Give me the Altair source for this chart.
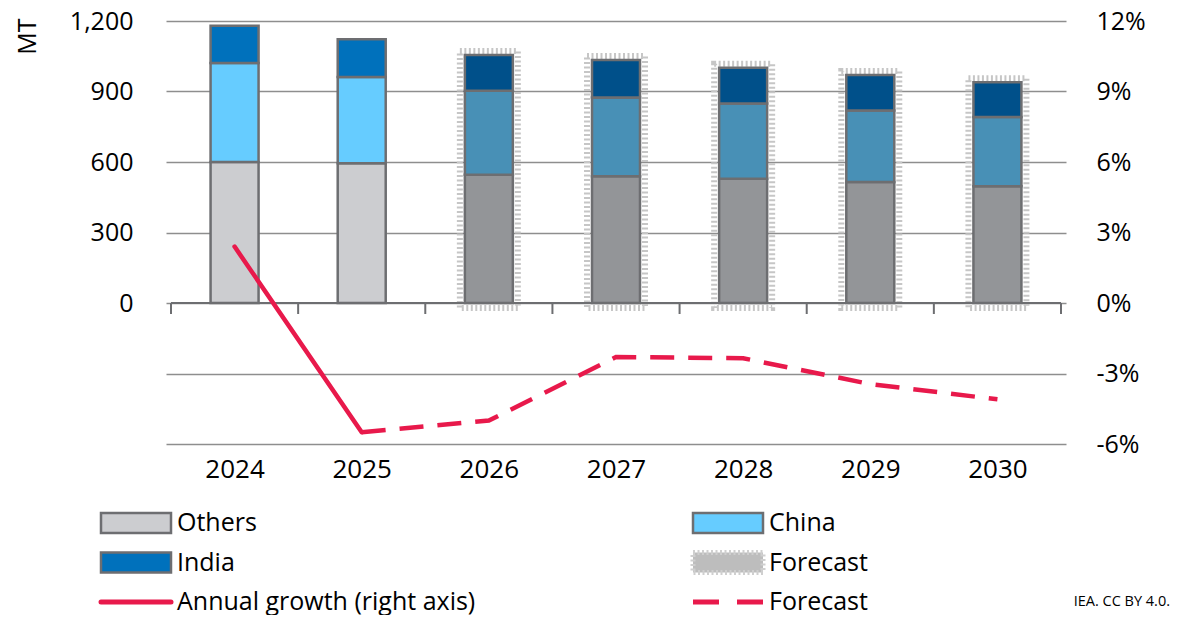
import altair as alt
import pandas as pd

# ---------------- data ----------------
years = [2024, 2025, 2026, 2027, 2028, 2029, 2030]
others = [600, 595, 546, 539, 529, 515, 497]
china = [421, 367, 357, 336, 320, 304, 295]
india = [159, 160, 152, 159, 152, 151, 147]
growth = [2.4, -5.5, -5.0, -2.3, -2.35, -3.45, -4.1]
first_forecast_year = 2026

regions = ["Others", "China", "India"]
left_ticks = [-600, -300, 0, 300, 600, 900, 1200]
right_ticks = [-6, -3, 0, 3, 6, 9, 12]

legend_labels = ["Others", "India", "Annual growth (right axis)", "China", "Forecast", "Forecast"]
legend_cols = [0, 0, 0, 1, 1, 1]
legend_rows = [0, 1, 2, 0, 1, 2]
legend_kinds = ["box", "box", "line", "box", "hatch", "dash"]
legend_fills = ["#cccdd0", "#0071bc", "", "#66ccff", "#bdbdbd", ""]

source_note = "IEA. CC BY 4.0."

# ---------------- styling ----------------
FONT = "Open Sans"
FS = 25
BAR_STROKE = "#6d6e71"
RED = "#e8194b"
key_domain = ["Others actual", "China actual", "India actual",
              "Others forecast", "China forecast", "India forecast"]
key_range = ["#cccdd0", "#66ccff", "#0071bc", "#939598", "#4890b6", "#00508a"]

W, H = 900, 423
LEG_H = 79

# ---------------- tables ----------------
rows = []
for i, yr in enumerate(years):
    phase = "forecast" if yr >= first_forecast_year else "actual"
    for k, (r, vals) in enumerate(zip(regions, [others, china, india])):
        rows.append({"year": yr, "region": r, "value": vals[i],
                     "key": f"{r} {phase}", "order": k})
bars_df = pd.DataFrame(rows)

totals_df = pd.DataFrame({
    "year": years,
    "total": [o + c + n for o, c, n in zip(others, china, india)],
})
hatch_df = totals_df[totals_df["year"] >= first_forecast_year]

bounds = [y - 0.5 for y in years] + [years[-1] + 0.5]
bounds_df = pd.DataFrame({"year": bounds})
base_df = pd.DataFrame({"year": [bounds[0]], "year_end": [bounds[-1]]})

actual_line_df = pd.DataFrame({"year": years[:2], "growth": growth[:2]})
fc_line_df = pd.DataFrame({"year": years[1:], "growth": growth[1:]})

legend_df = pd.DataFrame({"label": legend_labels, "col": legend_cols,
                          "row": legend_rows, "kind": legend_kinds,
                          "fill": legend_fills})

# ---------------- encodings ----------------
xscale = alt.Scale(domain=[bounds[0], bounds[-1]], nice=False, zero=False)
x_axis = alt.Axis(values=years, format="d", grid=False, ticks=False,
                  domain=False, labelFontSize=26, labelFont=FONT,
                  labelColor="#000", labelPadding=12, title=None,
                  labelFlush=False)
X = alt.X("year:Q", scale=xscale, axis=x_axis, title=None)

lscale = alt.Scale(domain=[left_ticks[0], left_ticks[-1]], nice=False, zero=False)
rscale = alt.Scale(domain=[right_ticks[0], right_ticks[-1]], nice=False, zero=False)

left_axis = alt.Axis(values=left_ticks,
                     labelExpr="datum.value < 0 ? '' : format(datum.value, ',')",
                     grid=True, gridColor="#8e8e8e", gridWidth=1.5,
                     ticks=False, domain=False, labelFontSize=FS, labelFont=FONT,
                     labelColor="#000", labelPadding=33,
                     title="MT", titleFont=FONT, titleFontSize=FS,
                     titleFontWeight="normal", titleColor="#000", titleAngle=-90,
                     titleX=-139, titleY=15, titleAlign="center",
                     titleBaseline="middle")

hatch = alt.Chart(hatch_df).mark_bar(
    size=58, fill="transparent", stroke="#c6c6c6", strokeWidth=6,
    strokeDash=[2, 2.5], yOffset=-4, y2Offset=5
).encode(
    x=X,
    y=alt.Y("total:Q", scale=lscale, axis=left_axis, title="MT"),
    y2=alt.datum(0),
)

bars = alt.Chart(bars_df).mark_bar(size=48, stroke=BAR_STROKE, strokeWidth=2.5).encode(
    x=X,
    y=alt.Y("value:Q", stack="zero", scale=lscale, axis=left_axis, title="MT"),
    color=alt.Color("key:N", scale=alt.Scale(domain=key_domain, range=key_range),
                    legend=None),
    order=alt.Order("order:Q", sort="ascending"),
)

baseline = alt.Chart(base_df).mark_rule(color=BAR_STROKE, strokeWidth=2).encode(
    x=X,
    x2="year_end:Q",
    y=alt.Y(datum=0, scale=lscale, axis=left_axis, title="MT"),
)

ticks = alt.Chart(bounds_df).mark_rule(color=BAR_STROKE, strokeWidth=2,
                                       y2Offset=11).encode(
    x=X,
    y=alt.Y(datum=0, scale=lscale, axis=left_axis, title="MT"),
    y2=alt.datum(0),
)

left_layer = alt.layer(hatch, bars, baseline, ticks)

right_axis = alt.Axis(orient="right", values=right_ticks,
                      labelExpr="datum.value + '%'", grid=False, ticks=False,
                      domain=False, labelFontSize=FS, labelFont=FONT,
                      labelColor="#000", labelAlign="left", labelPadding=30,
                      title=None)

line_actual = alt.Chart(actual_line_df).mark_line(
    color=RED, strokeWidth=4.5, strokeCap="round"
).encode(x=X, y=alt.Y("growth:Q", scale=rscale, axis=right_axis, title=None))

line_fc = alt.Chart(fc_line_df).mark_line(
    color=RED, strokeWidth=4.5, strokeDash=[24, 14], strokeCap="butt"
).encode(x=X, y=alt.Y("growth:Q", scale=rscale, axis=right_axis, title=None))

right_layer = alt.layer(line_actual, line_fc)

main = alt.layer(left_layer, right_layer).resolve_scale(y="independent").properties(
    width=W, height=H)

# ---------------- legend ----------------
lx = alt.X("col:Q", scale=alt.Scale(domain=[0, 1], range=[-65, 527]), axis=None)
ly = alt.Y("row:Q", scale=alt.Scale(domain=[0, 2], range=[0, LEG_H]), axis=None)

leg_box = alt.Chart(legend_df).transform_filter("datum.kind == 'box'").mark_rect(
    x2Offset=70, yOffset=-10, y2Offset=10, stroke=BAR_STROKE, strokeWidth=2.5
).encode(x=lx, x2="col:Q", y=ly, y2="row:Q",
         fill=alt.Fill("fill:N", scale=None))

leg_hatch = alt.Chart(legend_df).transform_filter("datum.kind == 'hatch'").mark_rect(
    x2Offset=70, yOffset=-10, y2Offset=10, fill="#bdbdbd", stroke="#cfcfcf",
    strokeWidth=5, strokeDash=[2, 2.5]
).encode(x=lx, x2="col:Q", y=ly, y2="row:Q")

leg_line = alt.Chart(legend_df).transform_filter("datum.kind == 'line'").mark_rule(
    x2Offset=70, color=RED, strokeWidth=5, strokeCap="round"
).encode(x=lx, x2="col:Q", y=ly)

leg_dash = alt.Chart(legend_df).transform_filter("datum.kind == 'dash'").mark_rule(
    x2Offset=70, color=RED, strokeWidth=5, strokeDash=[26, 18], strokeCap="butt"
).encode(x=lx, x2="col:Q", y=ly)

leg_text = alt.Chart(legend_df).mark_text(
    align="left", baseline="middle", dx=76, fontSize=FS, font=FONT, color="#000"
).encode(x=lx, y=ly, text="label:N")

note = alt.Chart(pd.DataFrame({"t": [source_note]})).mark_text(
    align="right", baseline="middle", fontSize=14.5, font=FONT, color="#000", dx=104
).encode(x=alt.value(W), y=alt.value(LEG_H), text="t:N")

legend = alt.layer(leg_box, leg_hatch, leg_line, leg_dash, leg_text, note).properties(
    width=W, height=LEG_H)

chart = alt.vconcat(main, legend, spacing=29).properties(
    padding={"left": 7, "top": 1, "right": 0, "bottom": 0}
).configure_view(stroke=None)

chart.save("out.html", embed_options={"renderer": "svg", "actions": False})
